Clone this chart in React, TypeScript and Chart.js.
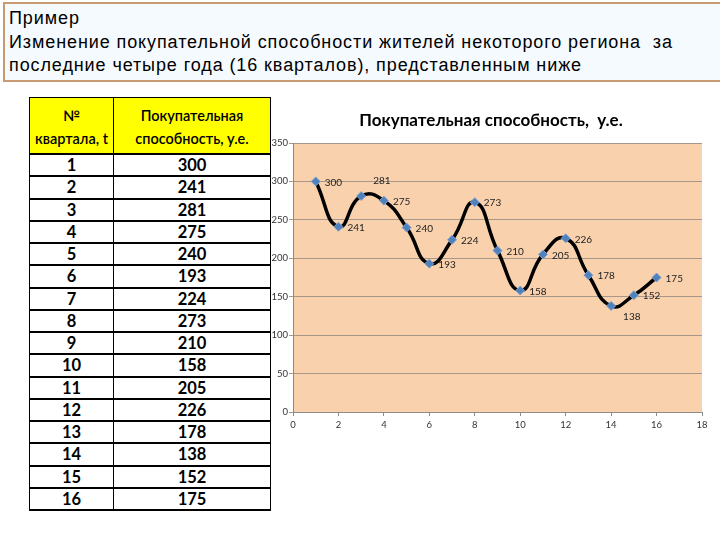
import React, { useEffect, useRef } from "react";
import { Chart, registerables } from "chart.js";

Chart.register(...registerables);

const headerLines = [
  "Пример",
  "Изменение покупательной способности жителей некоторого региона  за",
  "последние четыре года (16 кварталов), представленным ниже",
];
const tableHeaders = ["№ квартала, t", "Покупательная способность, у.е."];
const quarters = [1, 2, 3, 4, 5, 6, 7, 8, 9, 10, 11, 12, 13, 14, 15, 16];
const values = [300, 241, 281, 275, 240, 193, 224, 273, 210, 158, 205, 226, 178, 138, 152, 175];
const chartTitle = "Покупательная способность,  у.е.";
// label placement relative to the marker (Excel-like)
const labelPlacement: Record<number, string> = { 3: "aboveRight", 14: "belowRight" };

const FONT = "Lato, 'Open Sans', sans-serif";

export default function App() {
  const ref = useRef<HTMLCanvasElement | null>(null);

  useEffect(() => {
    if (!ref.current) return;
    const bgPlugin = {
      id: "plotBg",
      beforeDraw(chart: any) {
        const { ctx, chartArea } = chart;
        ctx.save();
        ctx.fillStyle = "#f9d2ad";
        ctx.fillRect(chartArea.left, chartArea.top, chartArea.right - chartArea.left, chartArea.bottom - chartArea.top);
        ctx.restore();
      },
    };
    const titlePlugin = {
      id: "fixedTitle",
      afterDraw(chart: any) {
        const { ctx, width } = chart;
        ctx.save();
        ctx.font = `bold 17px ${FONT}`;
        ctx.fillStyle = "#000";
        ctx.textAlign = "center";
        ctx.textBaseline = "middle";
        ctx.fillText(chartTitle, width / 2, 26);
        ctx.restore();
      },
    };
    const labelPlugin = {
      id: "pointLabels",
      afterDatasetsDraw(chart: any) {
        const { ctx } = chart;
        const meta = chart.getDatasetMeta(0);
        ctx.save();
        ctx.font = `10px ${FONT}`;
        ctx.fillStyle = "#222";
        ctx.textAlign = "left";
        ctx.textBaseline = "middle";
        meta.data.forEach((pt: any, i: number) => {
          const q = quarters[i];
          const place = labelPlacement[q] || "right";
          let dx = 9;
          let dy = 1;
          if (place === "aboveRight") {
            dx = 12;
            dy = -15;
          } else if (place === "belowRight") {
            dx = 12;
            dy = 11;
          }
          ctx.fillText(String(values[i]), pt.x + dx, pt.y + dy);
        });
        ctx.restore();
      },
    };
    const chart = new Chart(ref.current, {
      type: "line",
      data: {
        datasets: [
          {
            data: quarters.map((q, i) => ({ x: q, y: values[i] })),
            borderColor: "#000000",
            borderWidth: 3.5,
            tension: 0.5,
            pointStyle: "rectRot",
            pointRadius: 4.5,
            pointBackgroundColor: "#4f81bd",
            pointBorderColor: "#7ea3d2",
            pointBorderWidth: 1,
          },
        ],
      },
      options: {
        animation: false,
        responsive: false,
        devicePixelRatio: 1,
        layout: { padding: { top: 48, right: 18, left: 0, bottom: 0 } },
        plugins: {
          legend: { display: false },
          tooltip: { enabled: false },
          title: { display: false },
        },
        scales: {
          x: {
            type: "linear",
            min: 0,
            max: 18,
            afterFit(scale: any) {
              scale.height = 28;
            },
            ticks: { stepSize: 2, color: "#333", font: { family: FONT, size: 9.5 }, padding: 3, maxRotation: 0 },
            grid: { drawOnChartArea: false, drawTicks: true, tickLength: 4, color: "#8c8c8c" },
            border: { display: true, color: "#8c8c8c" },
          },
          y: {
            min: 0,
            max: 350,
            afterFit(scale: any) {
              scale.width = 31;
            },
            ticks: { stepSize: 50, color: "#333", font: { family: FONT, size: 9.5 }, padding: 1 },
            grid: { color: "#a7978a", tickLength: 4 },
            border: { display: true, color: "#8c8c8c" },
          },
        },
      } as any,
      plugins: [bgPlugin, labelPlugin, titlePlugin],
    });
    return () => chart.destroy();
  }, []);

  const cellBase: React.CSSProperties = {
    borderLeft: "1.5px solid #000",
    borderRight: "1.5px solid #000",
    borderBottom: "2px solid #000",
    textAlign: "center",
    padding: 0,
    fontWeight: "bold",
    fontSize: 16.5,
    height: 20.25,
    lineHeight: "20px",
  };

  return (
    <div style={{ position: "absolute", left: 0, top: 0, width: 720, height: 540, background: "#fff", overflow: "hidden" }}>
      <div
        style={{
          position: "absolute",
          left: 3,
          top: 2,
          width: 711,
          height: 73,
          border: "2px solid #c89a72",
          background: "#f5faff",
          fontFamily: "'Liberation Sans', Arial, sans-serif",
          fontSize: 18,
          letterSpacing: "0.9px",
          lineHeight: "23.5px",
          color: "#000",
          paddingLeft: 4,
          paddingTop: 3,
          boxSizing: "content-box",
          whiteSpace: "pre",
        }}
      >
        {headerLines.map((l, i) => (
          <div key={i}>{l}</div>
        ))}
      </div>
      <canvas
        ref={ref}
        width={458}
        height={345}
        style={{ position: "absolute", left: 262, top: 95, width: 458, height: 345, zIndex: 1 }}
      />
      <table
        style={{
          position: "absolute",
          left: 29,
          top: 97,
          width: 241,
          borderCollapse: "collapse",
          fontFamily: FONT,
          color: "#000",
          zIndex: 2,
          background: "#fff",
          tableLayout: "fixed",
        }}
      >
        <colgroup>
          <col style={{ width: 84 }} />
          <col style={{ width: 157 }} />
        </colgroup>
        <thead>
          <tr>
            {tableHeaders.map((h, i) => (
              <th
                key={i}
                style={{
                  background: "#ffff00",
                  borderLeft: "1.5px solid #000",
                  borderRight: "1.5px solid #000",
                  borderTop: "1.5px solid #000",
                  borderBottom: "2.5px solid #000",
                  height: 52,
                  padding: "0 0 3px 0",
                  fontSize: 14.5,
                  fontWeight: 600,
                  lineHeight: "23px",
                  textAlign: "center",
                  verticalAlign: "bottom",
                }}
              >
                {i === 0 ? (
                  <>
                    №<br />квартала, t
                  </>
                ) : (
                  <>
                    Покупательная
                    <br />
                    способность, у.е.
                  </>
                )}
              </th>
            ))}
          </tr>
        </thead>
        <tbody>
          {quarters.map((q, i) => (
            <tr key={q}>
              <td style={cellBase}>{q}</td>
              <td style={cellBase}>{values[i]}</td>
            </tr>
          ))}
        </tbody>
      </table>
    </div>
  );
}
